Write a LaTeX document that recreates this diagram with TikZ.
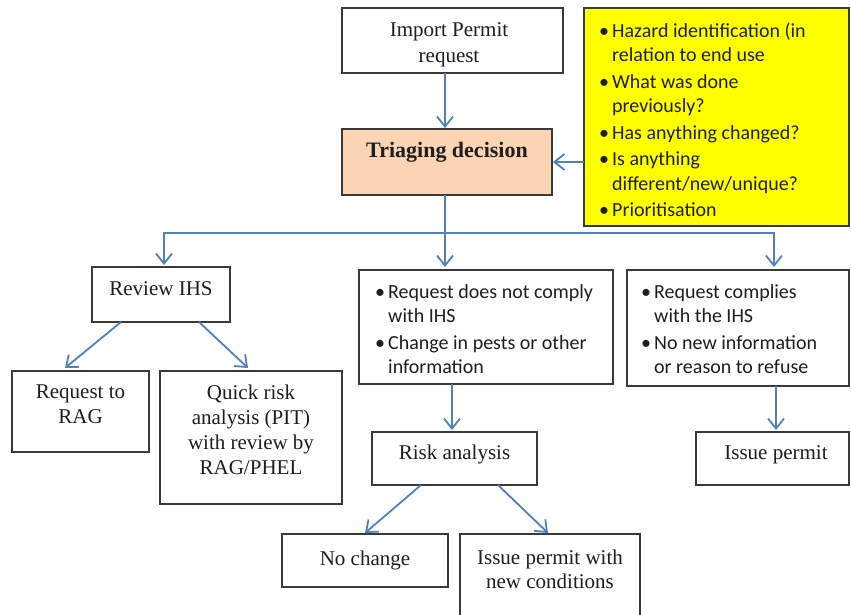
\documentclass[tikz,border=0pt]{standalone}
\usepackage{fontspec}
\setmainfont{Liberation Serif}
\newfontfamily\calib{Carlito}
\usetikzlibrary{arrows.meta}
\definecolor{arrowblue}{HTML}{4F81BD}
\definecolor{peach}{HTML}{FBD4B4}
\definecolor{boxline}{HTML}{3A3A3A}
\definecolor{txt}{HTML}{1E1E1E}
\definecolor{yel}{HTML}{FFFF00}
\newcommand{\bul}{\makebox[13pt][l]{•}}
\begin{document}
\begin{tikzpicture}[x=1pt,y=-1pt,
  box/.style={draw=boxline, line width=1.1pt, anchor=north west, inner sep=0pt, outer sep=0pt},
  lbl/.style={anchor=base, inner sep=0pt, align=center, font=\fontsize{21}{25}\selectfont, text=txt},
  blist/.style={anchor=base west, inner sep=0pt, font=\calib\fontsize{20}{24}\selectfont, text=txt},
  arr/.style={draw=arrowblue, line width=1.8pt, -{Straight Barb[length=10pt,width=16pt]}},
  conn/.style={draw=arrowblue, line width=1.8pt}
]
\useasboundingbox (0,0) rectangle (851,614);
\fill[white] (0,0) rectangle (851,614);
% boxes
\node[box, minimum width=221pt, minimum height=65pt] (imp) at (342,8) {};
\node[box, fill=peach, minimum width=210pt, minimum height=66pt] (tri) at (342,129) {};
\node[box, fill=yel, minimum width=265pt, minimum height=218pt] (ylw) at (584,8) {};
\node[box, minimum width=138pt, minimum height=55pt] (rev) at (92,267) {};
\node[box, minimum width=254pt, minimum height=114pt] (mid) at (359,270) {};
\node[box, minimum width=222pt, minimum height=116pt] (rgt) at (627,270) {};
\node[box, minimum width=137pt, minimum height=81pt] (rag) at (12,371) {};
\node[box, minimum width=182pt, minimum height=133pt] (qra) at (160,371) {};
\node[box, minimum width=165pt, minimum height=53pt] (risk) at (372,432) {};
\node[box, minimum width=153pt, minimum height=53pt] (iss) at (696,432) {};
\node[box, minimum width=166pt, minimum height=53pt] (noc) at (282,534) {};
\node[box, minimum width=180pt, minimum height=84pt] (ipn) at (460,534) {};
% texts (multi-line nodes are anchored at the baseline of their last line)
\node[lbl, font=\fontsize{21}{26}\selectfont] (timp) at (449,62) {Import Permit\\request};
\node[lbl, font=\bfseries\fontsize{22}{26}\selectfont] (ttri) at (447,157) {Triaging decision};
\node[lbl] (trev) at (161,295) {Review IHS};
\node[lbl] (trag) at (80.5,423) {Request to\\RAG};
\node[lbl] (tqra) at (251,474) {Quick risk\\analysis (PIT)\\with review by\\RAG/PHEL};
\node[lbl] (trisk) at (454.5,459) {Risk analysis};
\node[lbl] (tiss) at (776,459) {Issue permit};
\node[lbl] (tnoc) at (365,565) {No change};
\node[lbl, font=\fontsize{21}{24}\selectfont] (tipn) at (550,588) {Issue permit with\\new conditions};
\node[blist, font=\calib\fontsize{20}{24.5}\selectfont] (tylw) at (599,37) {\begin{tabular}[t]{@{}l@{}l@{}}
\bul & Hazard identification (in\\
 & relation to end use\\[2pt]
\bul & What was done\\
 & previously?\\[2pt]
\bul & Has anything changed?\\[2pt]
\bul & Is anything\\
 & different/new/unique?\\[2pt]
\bul & Prioritisation
\end{tabular}};
\node[blist] (tmid) at (375,298) {\begin{tabular}[t]{@{}l@{}l@{}}
\bul & Request does not comply\\
 & with IHS\\[3pt]
\bul & Change in pests or other\\
 & information
\end{tabular}};
\node[blist] (trgt) at (641,298) {\begin{tabular}[t]{@{}l@{}l@{}}
\bul & Request complies\\
 & with the IHS\\[3pt]
\bul & No new information\\
 & or reason to refuse
\end{tabular}};
% connectors
\coordinate (split) at (445,233);
\draw[arr] ([xshift=-7.5pt]imp.south) -- ([xshift=-2pt,yshift=1pt]tri.north);
\draw[arr] (tri.east -| ylw.west) -- ([xshift=1pt]tri.east);
\draw[conn] ([xshift=-2pt]tri.south) -- (split);
\draw[arr] (split) -| ([xshift=3pt,yshift=2pt]rev.north);
\draw[arr] (split) -- ([yshift=3pt]split |- mid.north);
\draw[arr] (split) -| ([xshift=36pt,yshift=3pt]rgt.north);
\draw[arr] ([xshift=-40pt]rev.south) -- ([xshift=-15.5pt,yshift=3pt]rag.north);
\draw[arr] ([xshift=38pt]rev.south) -- ([xshift=-3pt,yshift=3pt]qra.north);
\draw[arr] ([xshift=-34pt]mid.south) -- ([xshift=-34pt,yshift=2pt]mid.south |- risk.north);
\draw[arr] ([xshift=38pt]rgt.south) -- ([xshift=38pt,yshift=2pt]rgt.south |- iss.north);
\draw[arr] ([xshift=-33.5pt]risk.south) -- ([yshift=1pt]noc.north);
\draw[arr] ([xshift=43.5pt]risk.south) -- ([xshift=-2pt,yshift=1pt]ipn.north);
\end{tikzpicture}
\end{document}
